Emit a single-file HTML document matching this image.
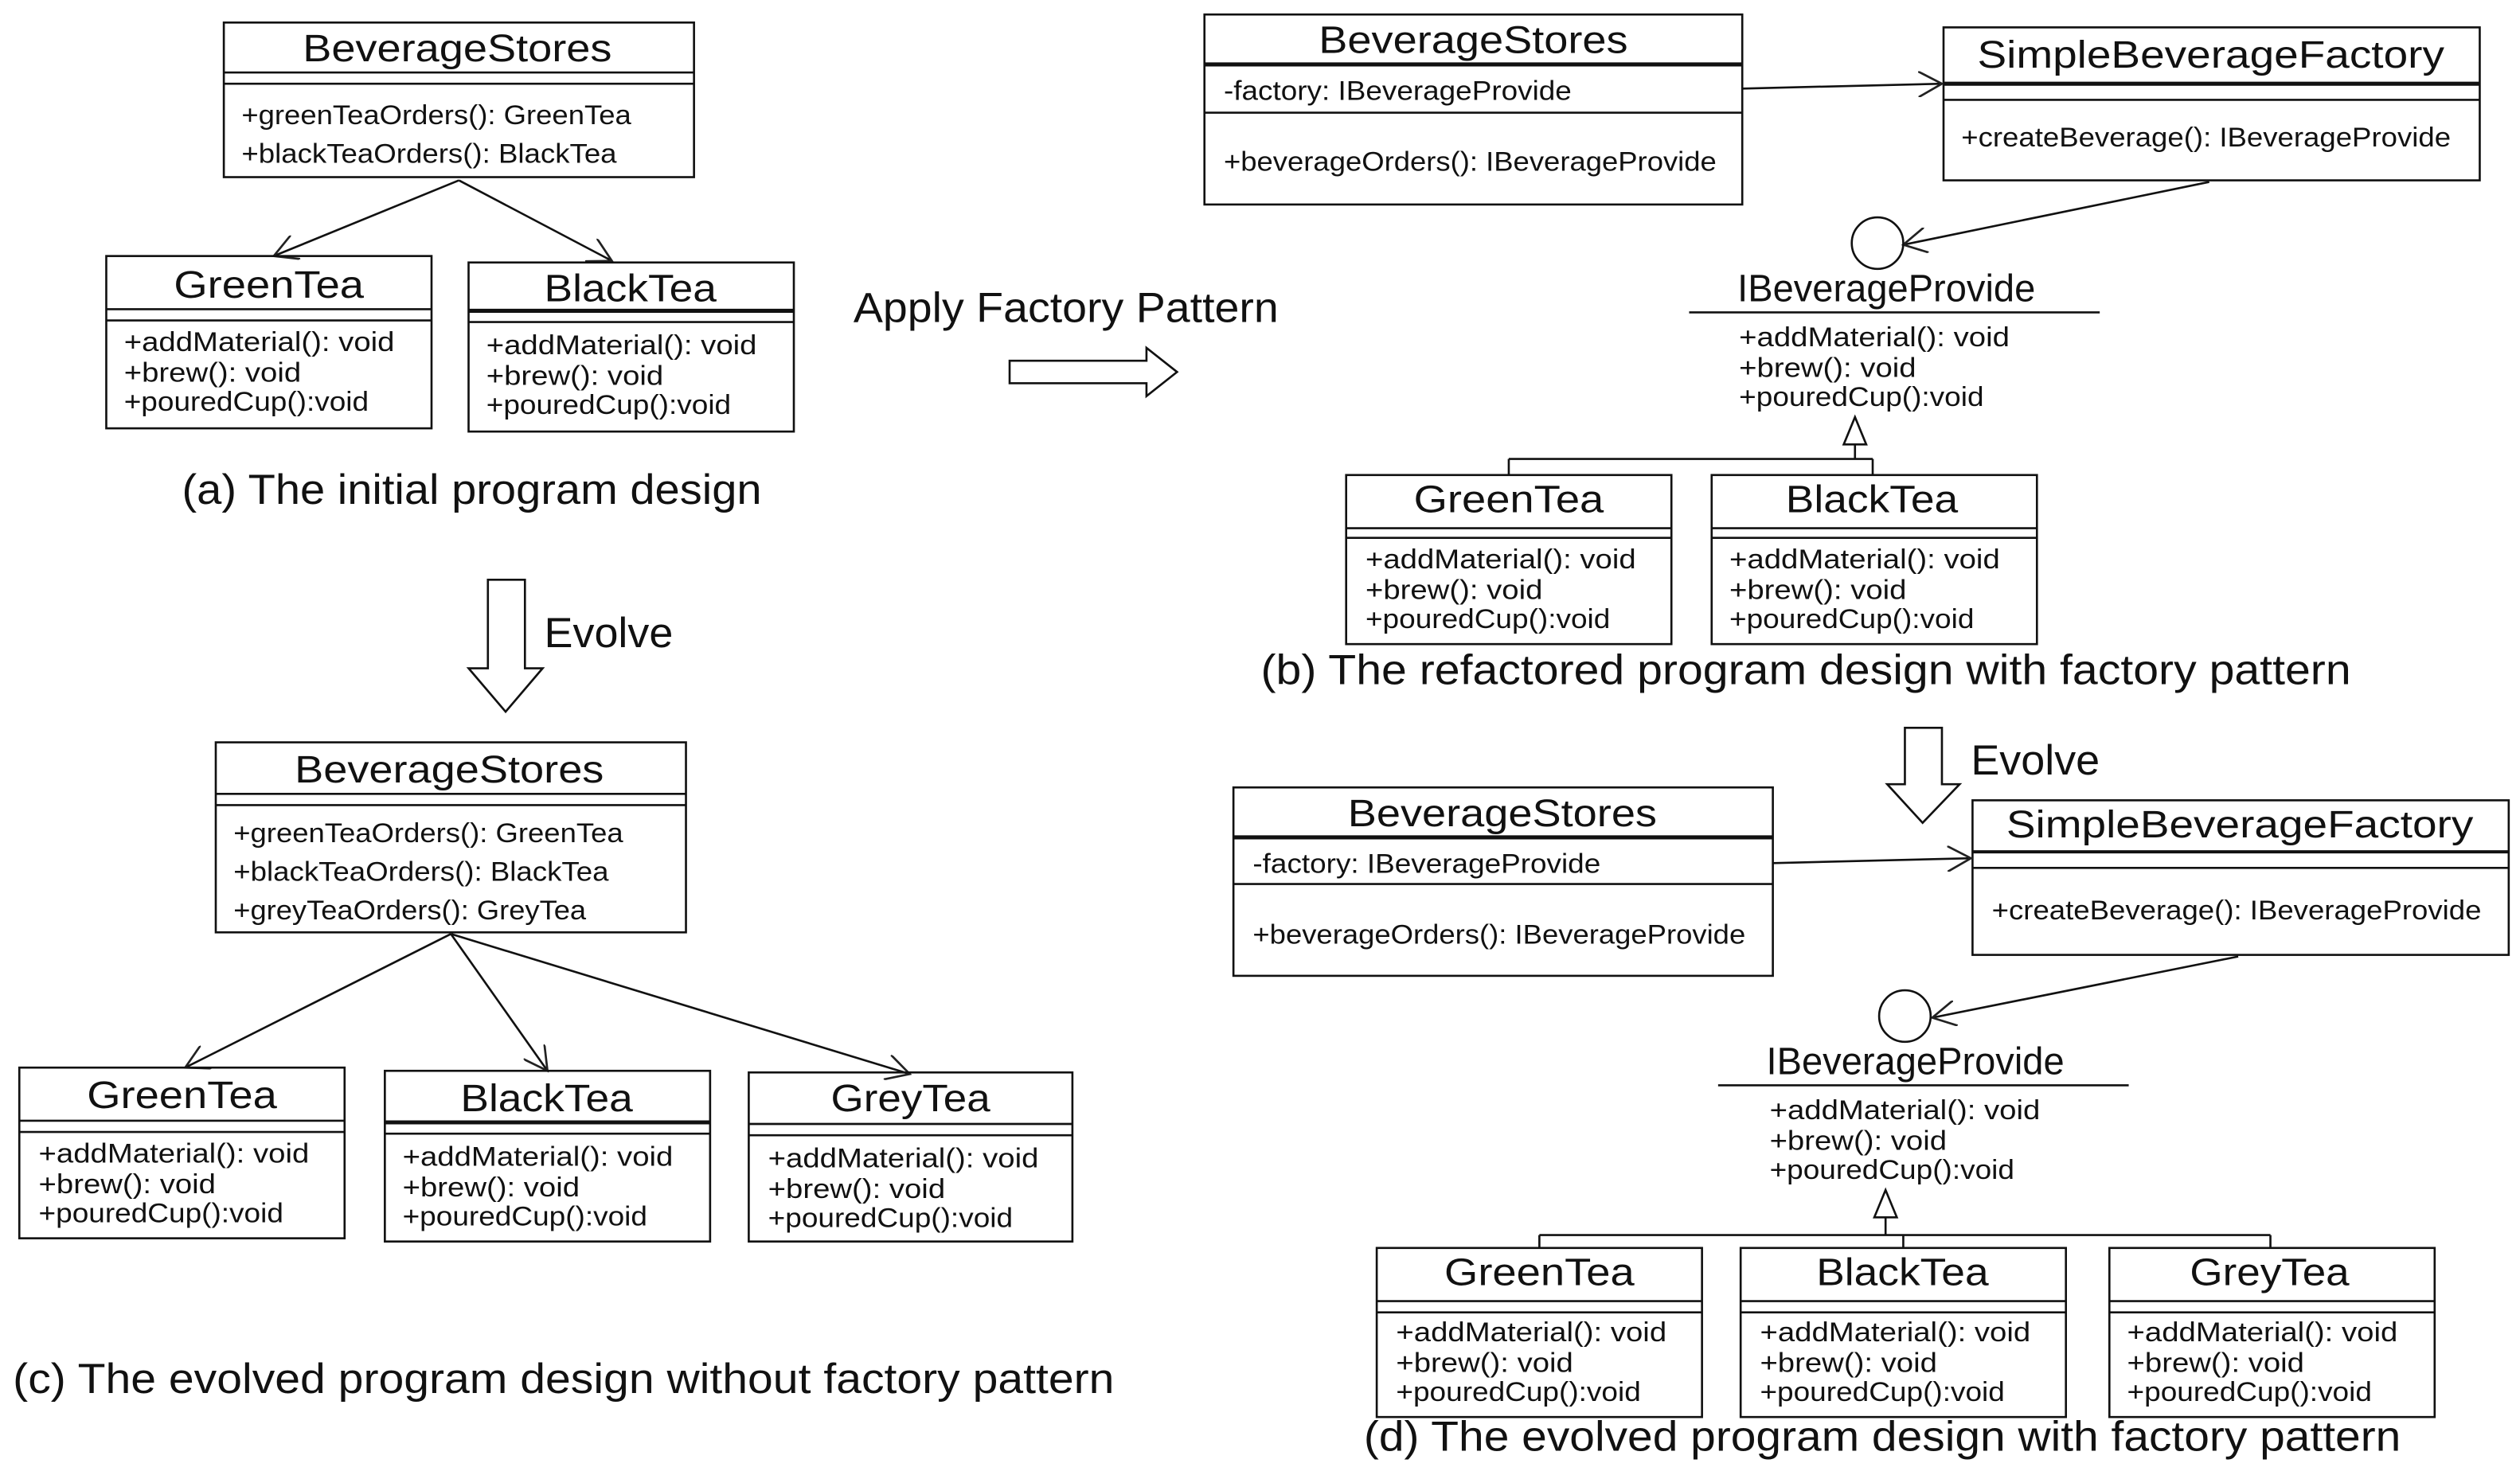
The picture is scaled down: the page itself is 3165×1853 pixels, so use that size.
<!DOCTYPE html>
<html><head><meta charset="utf-8"><style>
html,body{margin:0;padding:0;background:#fff}
svg{display:block}
text{font-family:"Liberation Sans",sans-serif;fill:#111}
.t{font-size:24px}
.m{font-size:17px}
.c{font-size:26px}
</style></head><body>
<svg width="3165" height="1853" viewBox="0 0 1565 916" preserveAspectRatio="none" xmlns="http://www.w3.org/2000/svg">
<defs>
<marker id="oa" viewBox="0 0 12 12" refX="11" refY="6" markerWidth="16" markerHeight="16" markerUnits="userSpaceOnUse" orient="auto">
<path d="M0,0 L11,6 L0,12" fill="none" stroke="#222" stroke-width="1"/>
</marker>
</defs>
<g fill="none" stroke="#111" stroke-width="1.3">
<!-- (a) -->
<rect x="139" y="14" width="292" height="96"/><line x1="139" y1="45" x2="431" y2="45"/><line x1="139" y1="52" x2="431" y2="52"/>
<line x1="285" y1="112" x2="170" y2="159" marker-end="url(#oa)"/>
<line x1="285" y1="112" x2="380" y2="162" marker-end="url(#oa)"/>
<rect x="66" y="159" width="202" height="107"/><line x1="66" y1="192" x2="268" y2="192"/><line x1="66" y1="199" x2="268" y2="199"/>
<rect x="291" y="163" width="202" height="105"/><line x1="291" y1="193" x2="493" y2="193" stroke-width="2.5"/><line x1="291" y1="200" x2="493" y2="200"/>
<!-- apply arrow -->
<path d="M627,224 L712,224 L712,216 L731,231 L712,246 L712,238 L627,238 Z"/>
<!-- evolve arrow left -->
<path d="M303,360 L326,360 L326,415 L337,415 L314,442 L291,415 L303,415 Z"/>
<!-- (c) -->
<rect x="134" y="461" width="292" height="118"/><line x1="134" y1="493" x2="426" y2="493"/><line x1="134" y1="500" x2="426" y2="500"/>
<line x1="280" y1="580" x2="115" y2="663" marker-end="url(#oa)"/>
<line x1="280" y1="580" x2="340" y2="665" marker-end="url(#oa)"/>
<line x1="280" y1="580" x2="565" y2="667" marker-end="url(#oa)"/>
<rect x="12" y="663" width="202" height="106"/><line x1="12" y1="696" x2="214" y2="696"/><line x1="12" y1="703" x2="214" y2="703"/>
<rect x="239" y="665" width="202" height="106"/><line x1="239" y1="697" x2="441" y2="697" stroke-width="2.5"/><line x1="239" y1="704" x2="441" y2="704"/>
<rect x="465" y="666" width="201" height="105"/><line x1="465" y1="698" x2="666" y2="698"/><line x1="465" y1="705" x2="666" y2="705"/>
<!-- (b) -->
<rect x="748" y="9" width="334" height="118"/><line x1="748" y1="40" x2="1082" y2="40" stroke-width="2.5"/><line x1="748" y1="70" x2="1082" y2="70"/>
<rect x="1207" y="17" width="333" height="95"/><line x1="1207" y1="52" x2="1540" y2="52" stroke-width="2.5"/><line x1="1207" y1="62" x2="1540" y2="62"/>
<line x1="1082" y1="55" x2="1206" y2="52" marker-end="url(#oa)"/>
<line x1="1372" y1="113" x2="1182" y2="152" marker-end="url(#oa)"/>
<circle cx="1166" cy="151" r="16"/>
<line x1="1049" y1="194" x2="1304" y2="194"/>
<path d="M1152,259 L1159,276 L1145,276 Z"/>
<path d="M1152,276 L1152,285 M937,285 L1163,285 M937,285 L937,295 M1163,285 L1163,295"/>
<rect x="836" y="295" width="202" height="105"/><line x1="836" y1="328" x2="1038" y2="328"/><line x1="836" y1="334" x2="1038" y2="334"/>
<rect x="1063" y="295" width="202" height="105"/><line x1="1063" y1="328" x2="1265" y2="328"/><line x1="1063" y1="334" x2="1265" y2="334"/>
<!-- evolve arrow right -->
<path d="M1183,452 L1206,452 L1206,487 L1217,487 L1194,511 L1172,487 L1183,487 Z"/>
<!-- (d) -->
<rect x="766" y="489" width="335" height="117"/><line x1="766" y1="520" x2="1101" y2="520" stroke-width="2.5"/><line x1="766" y1="549" x2="1101" y2="549"/>
<rect x="1225" y="497" width="333" height="96"/><line x1="1225" y1="529" x2="1558" y2="529" stroke-width="2"/><line x1="1225" y1="539" x2="1558" y2="539"/>
<line x1="1101" y1="536" x2="1224" y2="533" marker-end="url(#oa)"/>
<line x1="1390" y1="594" x2="1200" y2="632" marker-end="url(#oa)"/>
<circle cx="1183" cy="631" r="16"/>
<line x1="1067" y1="674" x2="1322" y2="674"/>
<path d="M1171,739 L1178,756 L1164,756 Z"/>
<path d="M1171,756 L1171,767 M956,767 L1410,767 M956,767 L956,775 M1182,767 L1182,775 M1410,767 L1410,775"/>
<rect x="855" y="775" width="202" height="105"/><line x1="855" y1="808" x2="1057" y2="808"/><line x1="855" y1="815" x2="1057" y2="815"/>
<rect x="1081" y="775" width="202" height="105"/><line x1="1081" y1="808" x2="1283" y2="808"/><line x1="1081" y1="815" x2="1283" y2="815"/>
<rect x="1310" y="775" width="202" height="105"/><line x1="1310" y1="808" x2="1512" y2="808"/><line x1="1310" y1="815" x2="1512" y2="815"/>
</g>
<g lengthAdjust="spacingAndGlyphs">
<!-- (a) -->
<text class="t" x="188" y="38" textLength="192" lengthAdjust="spacingAndGlyphs">BeverageStores</text>
<text class="m" x="150" y="77" textLength="242" lengthAdjust="spacingAndGlyphs">+greenTeaOrders(): GreenTea</text>
<text class="m" x="150" y="101" textLength="233" lengthAdjust="spacingAndGlyphs">+blackTeaOrders(): BlackTea</text>
<text class="t" x="108" y="185" textLength="118" lengthAdjust="spacingAndGlyphs">GreenTea</text>
<text class="m" x="77" y="218" textLength="168" lengthAdjust="spacingAndGlyphs">+addMaterial(): void</text>
<text class="m" x="77" y="237" textLength="110" lengthAdjust="spacingAndGlyphs">+brew(): void</text>
<text class="m" x="77" y="255" textLength="152" lengthAdjust="spacingAndGlyphs">+pouredCup():void</text>
<text class="t" x="338" y="187" textLength="107" lengthAdjust="spacingAndGlyphs">BlackTea</text>
<text class="m" x="302" y="220" textLength="168" lengthAdjust="spacingAndGlyphs">+addMaterial(): void</text>
<text class="m" x="302" y="239" textLength="110" lengthAdjust="spacingAndGlyphs">+brew(): void</text>
<text class="m" x="302" y="257" textLength="152" lengthAdjust="spacingAndGlyphs">+pouredCup():void</text>
<text class="c" x="113" y="313" textLength="360" lengthAdjust="spacingAndGlyphs">(a) The initial program design</text>
<text class="c" x="530" y="200" textLength="264" lengthAdjust="spacingAndGlyphs">Apply Factory Pattern</text>
<text class="c" x="338" y="402" textLength="80" lengthAdjust="spacingAndGlyphs">Evolve</text>
<!-- (c) -->
<text class="t" x="183" y="486" textLength="192" lengthAdjust="spacingAndGlyphs">BeverageStores</text>
<text class="m" x="145" y="523" textLength="242" lengthAdjust="spacingAndGlyphs">+greenTeaOrders(): GreenTea</text>
<text class="m" x="145" y="547" textLength="233" lengthAdjust="spacingAndGlyphs">+blackTeaOrders(): BlackTea</text>
<text class="m" x="145" y="571" textLength="219" lengthAdjust="spacingAndGlyphs">+greyTeaOrders(): GreyTea</text>
<text class="t" x="54" y="688" textLength="118" lengthAdjust="spacingAndGlyphs">GreenTea</text>
<text class="m" x="24" y="722" textLength="168" lengthAdjust="spacingAndGlyphs">+addMaterial(): void</text>
<text class="m" x="24" y="741" textLength="110" lengthAdjust="spacingAndGlyphs">+brew(): void</text>
<text class="m" x="24" y="759" textLength="152" lengthAdjust="spacingAndGlyphs">+pouredCup():void</text>
<text class="t" x="286" y="690" textLength="107" lengthAdjust="spacingAndGlyphs">BlackTea</text>
<text class="m" x="250" y="724" textLength="168" lengthAdjust="spacingAndGlyphs">+addMaterial(): void</text>
<text class="m" x="250" y="743" textLength="110" lengthAdjust="spacingAndGlyphs">+brew(): void</text>
<text class="m" x="250" y="761" textLength="152" lengthAdjust="spacingAndGlyphs">+pouredCup():void</text>
<text class="t" x="516" y="690" textLength="99" lengthAdjust="spacingAndGlyphs">GreyTea</text>
<text class="m" x="477" y="725" textLength="168" lengthAdjust="spacingAndGlyphs">+addMaterial(): void</text>
<text class="m" x="477" y="744" textLength="110" lengthAdjust="spacingAndGlyphs">+brew(): void</text>
<text class="m" x="477" y="762" textLength="152" lengthAdjust="spacingAndGlyphs">+pouredCup():void</text>
<text class="c" x="8" y="865" textLength="684" lengthAdjust="spacingAndGlyphs">(c) The evolved program design without factory pattern</text>
<!-- (b) -->
<text class="t" x="819" y="33" textLength="192" lengthAdjust="spacingAndGlyphs">BeverageStores</text>
<text class="m" x="760" y="62" textLength="216" lengthAdjust="spacingAndGlyphs">-factory: IBeverageProvide</text>
<text class="m" x="760" y="106" textLength="306" lengthAdjust="spacingAndGlyphs">+beverageOrders(): IBeverageProvide</text>
<text class="t" x="1228" y="42" textLength="290" lengthAdjust="spacingAndGlyphs">SimpleBeverageFactory</text>
<text class="m" x="1218" y="91" textLength="304" lengthAdjust="spacingAndGlyphs">+createBeverage(): IBeverageProvide</text>
<text class="t" x="1079" y="187" textLength="185" lengthAdjust="spacingAndGlyphs">IBeverageProvide</text>
<text class="m" x="1080" y="215" textLength="168" lengthAdjust="spacingAndGlyphs">+addMaterial(): void</text>
<text class="m" x="1080" y="234" textLength="110" lengthAdjust="spacingAndGlyphs">+brew(): void</text>
<text class="m" x="1080" y="252" textLength="152" lengthAdjust="spacingAndGlyphs">+pouredCup():void</text>
<text class="t" x="878" y="318" textLength="118" lengthAdjust="spacingAndGlyphs">GreenTea</text>
<text class="m" x="848" y="353" textLength="168" lengthAdjust="spacingAndGlyphs">+addMaterial(): void</text>
<text class="m" x="848" y="372" textLength="110" lengthAdjust="spacingAndGlyphs">+brew(): void</text>
<text class="m" x="848" y="390" textLength="152" lengthAdjust="spacingAndGlyphs">+pouredCup():void</text>
<text class="t" x="1109" y="318" textLength="107" lengthAdjust="spacingAndGlyphs">BlackTea</text>
<text class="m" x="1074" y="353" textLength="168" lengthAdjust="spacingAndGlyphs">+addMaterial(): void</text>
<text class="m" x="1074" y="372" textLength="110" lengthAdjust="spacingAndGlyphs">+brew(): void</text>
<text class="m" x="1074" y="390" textLength="152" lengthAdjust="spacingAndGlyphs">+pouredCup():void</text>
<text class="c" x="783" y="425" textLength="677" lengthAdjust="spacingAndGlyphs">(b) The refactored program design with factory pattern</text>
<text class="c" x="1224" y="481" textLength="80" lengthAdjust="spacingAndGlyphs">Evolve</text>
<!-- (d) -->
<text class="t" x="837" y="513" textLength="192" lengthAdjust="spacingAndGlyphs">BeverageStores</text>
<text class="m" x="778" y="542" textLength="216" lengthAdjust="spacingAndGlyphs">-factory: IBeverageProvide</text>
<text class="m" x="778" y="586" textLength="306" lengthAdjust="spacingAndGlyphs">+beverageOrders(): IBeverageProvide</text>
<text class="t" x="1246" y="520" textLength="290" lengthAdjust="spacingAndGlyphs">SimpleBeverageFactory</text>
<text class="m" x="1237" y="571" textLength="304" lengthAdjust="spacingAndGlyphs">+createBeverage(): IBeverageProvide</text>
<text class="t" x="1097" y="667" textLength="185" lengthAdjust="spacingAndGlyphs">IBeverageProvide</text>
<text class="m" x="1099" y="695" textLength="168" lengthAdjust="spacingAndGlyphs">+addMaterial(): void</text>
<text class="m" x="1099" y="714" textLength="110" lengthAdjust="spacingAndGlyphs">+brew(): void</text>
<text class="m" x="1099" y="732" textLength="152" lengthAdjust="spacingAndGlyphs">+pouredCup():void</text>
<text class="t" x="897" y="798" textLength="118" lengthAdjust="spacingAndGlyphs">GreenTea</text>
<text class="m" x="867" y="833" textLength="168" lengthAdjust="spacingAndGlyphs">+addMaterial(): void</text>
<text class="m" x="867" y="852" textLength="110" lengthAdjust="spacingAndGlyphs">+brew(): void</text>
<text class="m" x="867" y="870" textLength="152" lengthAdjust="spacingAndGlyphs">+pouredCup():void</text>
<text class="t" x="1128" y="798" textLength="107" lengthAdjust="spacingAndGlyphs">BlackTea</text>
<text class="m" x="1093" y="833" textLength="168" lengthAdjust="spacingAndGlyphs">+addMaterial(): void</text>
<text class="m" x="1093" y="852" textLength="110" lengthAdjust="spacingAndGlyphs">+brew(): void</text>
<text class="m" x="1093" y="870" textLength="152" lengthAdjust="spacingAndGlyphs">+pouredCup():void</text>
<text class="t" x="1360" y="798" textLength="99" lengthAdjust="spacingAndGlyphs">GreyTea</text>
<text class="m" x="1321" y="833" textLength="168" lengthAdjust="spacingAndGlyphs">+addMaterial(): void</text>
<text class="m" x="1321" y="852" textLength="110" lengthAdjust="spacingAndGlyphs">+brew(): void</text>
<text class="m" x="1321" y="870" textLength="152" lengthAdjust="spacingAndGlyphs">+pouredCup():void</text>
<text class="c" x="847" y="901" textLength="644" lengthAdjust="spacingAndGlyphs">(d) The evolved program design with factory pattern</text>
</g>
</svg>
</body></html>
